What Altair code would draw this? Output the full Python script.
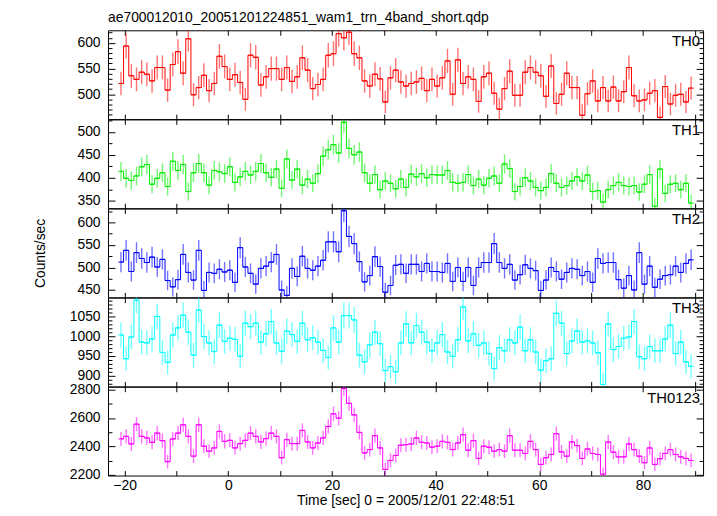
import altair as alt
import pandas as pd

FONT = "Liberation Sans"
BIN = 1.0
N_BINS = 111
T_FIRST = -20.7
TIME = [round(T_FIRST + BIN * i, 2) for i in range(N_BINS)]

TH0 = [521, 594, 536, 529, 543, 539, 526, 552, 552, 508,
       558, 583, 541, 608, 499, 513, 537, 507, 521, 574,
       554, 529, 538, 523, 490, 576, 572, 518, 534, 550,
       550, 529, 552, 525, 534, 571, 547, 511, 519, 529,
       576, 579, 618, 610, 621, 579, 571, 526, 516, 539,
       530, 485, 532, 547, 524, 516, 521, 524, 531, 507,
       529, 516, 532, 565, 500, 567, 521, 534, 529, 486,
       534, 541, 502, 471, 511, 545, 498, 498, 543, 552,
       543, 536, 496, 555, 482, 500, 541, 513, 513, 459,
       501, 526, 487, 513, 487, 514, 487, 505, 552, 497,
       487, 489, 502, 507, 455, 515, 481, 498, 500, 485, 512]

TH1 = [414, 399, 394, 404, 424, 429, 386, 399, 411, 381,
       436, 416, 429, 370, 411, 431, 411, 384, 416, 413,
       409, 424, 390, 402, 414, 406, 414, 431, 411, 401,
       419, 377, 441, 395, 419, 384, 397, 388, 409, 447,
       461, 472, 454, 521, 464, 450, 456, 411, 388, 407,
       374, 393, 388, 376, 397, 379, 408, 402, 409, 400,
       407, 406, 406, 416, 390, 388, 390, 407, 383, 397,
       384, 399, 404, 388, 430, 420, 370, 381, 400, 393,
       379, 372, 379, 409, 388, 379, 383, 393, 402, 393,
       406, 370, 372, 347, 374, 383, 390, 383, 381, 383,
       369, 386, 407, 338, 419, 366, 386, 388, 374, 388, 345]

TH2 = [512, 538, 491, 533, 520, 511, 523, 501, 518, 471,
       457, 473, 529, 489, 472, 538, 449, 489, 487, 496,
       490, 494, 467, 544, 501, 487, 463, 498, 503, 512,
       529, 450, 438, 498, 480, 525, 498, 494, 503, 516,
       557, 557, 535, 626, 569, 553, 513, 468, 482, 524,
       502, 445, 460, 505, 507, 487, 507, 507, 491, 509,
       491, 491, 489, 509, 469, 500, 469, 500, 460, 500,
       511, 511, 553, 511, 498, 507, 472, 484, 506, 498,
       493, 449, 472, 500, 491, 474, 489, 498, 496, 482,
       491, 467, 520, 509, 511, 511, 473, 454, 482, 450,
       533, 463, 503, 456, 474, 482, 484, 503, 489, 509, 517]

TH3 = [1003, 943, 998, 1091, 985, 983, 993, 1050, 959, 934,
       1003, 1021, 1053, 1010, 952, 1066, 999, 983, 961, 1028,
       987, 995, 992, 949, 1033, 1024, 1033, 985, 1006, 1037,
       983, 962, 1013, 1004, 987, 1033, 991, 996, 985, 964,
       946, 1021, 985, 1052, 1052, 1041, 952, 935, 978, 1010,
       981, 913, 923, 910, 983, 1031, 983, 1027, 1010, 985,
       963, 983, 1004, 960, 949, 991, 1074, 988, 1006, 977,
       983, 956, 918, 971, 963, 991, 983, 1023, 963, 991,
       960, 914, 938, 943, 1058, 1033, 956, 988, 1013, 985,
       988, 983, 958, 878, 1031, 966, 974, 995, 998, 1037,
       948, 943, 974, 963, 963, 993, 1028, 956, 985, 935, 924]

TH0123 = [2453, 2471, 2418, 2557, 2471, 2460, 2429, 2494, 2441, 2293,
          2453, 2494, 2552, 2471, 2332, 2552, 2402, 2367, 2390, 2506,
          2436, 2443, 2390, 2420, 2443, 2494, 2471, 2432, 2455, 2494,
          2471, 2321, 2448, 2420, 2420, 2513, 2432, 2390, 2425, 2460,
          2541, 2629, 2599, 2807, 2703, 2622, 2499, 2355, 2378, 2476,
          2390, 2239, 2302, 2337, 2409, 2413, 2418, 2460, 2429, 2425,
          2395, 2402, 2436, 2429, 2378, 2425, 2483, 2374, 2441, 2316,
          2402, 2395, 2367, 2378, 2367, 2476, 2374, 2374, 2351, 2436,
          2378, 2274, 2321, 2344, 2490, 2362, 2332, 2432, 2406, 2316,
          2383, 2351, 2344, 2205, 2432, 2360, 2327, 2327, 2418, 2378,
          2332, 2286, 2390, 2274, 2314, 2351, 2378, 2344, 2327, 2316, 2302]

NAMES = ["TH0", "TH1", "TH2", "TH3", "TH0123"]
SERIES = [TH0, TH1, TH2, TH3, TH0123]
COLORS = ["#ff0000", "#00ee00", "#0000ff", "#00ffff", "#ff00ff"]
Y_DOMAINS = [(451.6, 624.6), (333.8, 527.0), (433.7, 631.0), (873.0, 1097.5), (2196.0, 2819.5)]
Y_MAJOR = [[500, 550, 600], [350, 400, 450, 500], [450, 500, 550, 600],
           [900, 950, 1000, 1050], [2200, 2400, 2600, 2800]]
Y_STEP = [10, 25, 25, 10, 100]
X_DOMAIN = [-23.2, 91.6]
X_TICKS = [-20, -10, 0, 10, 20, 30, 40, 50, 60, 70, 80, 90]
X_LABELS = [-20, 0, 20, 40, 60, 80]
TITLE = "ae700012010_20051201224851_wam1_trn_4band_short.qdp"
XTITLE = "Time [sec] 0 = 2005/12/01 22:48:51"
YTITLE = "Counts/sec"

W, H = 601, 89.7


def minor_values(dom, step):
    start = int(-(-dom[0] // step) * step)
    vals = []
    v = start
    while v <= dom[1]:
        vals.append(v)
        v += step
    return vals


def panel(k):
    name, vals, color = NAMES[k], SERIES[k], COLORS[k]
    dom, major, step = Y_DOMAINS[k], Y_MAJOR[k], Y_STEP[k]
    last = k == len(NAMES) - 1
    df = pd.DataFrame({"t": TIME, "rate": vals})
    xs = alt.Scale(domain=X_DOMAIN, nice=False, zero=False)
    ys = alt.Scale(domain=list(dom), nice=False, zero=False)
    yticks = minor_values(dom, step)
    mod = major[1] - major[0]
    ytick_size = {"condition": {"test": f"datum.value % {mod} === 0", "value": 7}, "value": 4}

    y_lab = alt.Axis(orient="left", values=major, format="d", ticks=False, domain=False, grid=False,
                     labelPadding=8, labelFontSize=14, labelFont=FONT, labelColor="black",
                     title=YTITLE if k == 2 else None, titleFontSize=14, titleFont=FONT,
                     titleFontWeight="normal", titleColor="black", titlePadding=30)
    y_tick_l = alt.Axis(orient="right", offset=-W, values=yticks, labels=False, domain=False,
                        grid=False, ticks=True, tickSize=ytick_size, tickColor="black", title=None)
    y_tick_r = alt.Axis(orient="left", offset=-W, values=yticks, labels=False, domain=False,
                        grid=False, ticks=True, tickSize=ytick_size, tickColor="black", title=None)
    if last:
        x_lab = alt.Axis(orient="bottom", values=X_LABELS, format="d", ticks=False, domain=False,
                         grid=False, labelPadding=3, labelFontSize=14, labelFont=FONT,
                         labelColor="black", title=XTITLE, titleFontSize=14, titleFont=FONT,
                         titleFontWeight="normal", titleColor="black", titlePadding=1)
    else:
        x_lab = None
    x_tick_b = alt.Axis(orient="top", offset=-H, values=X_TICKS, labels=False, domain=False,
                        grid=False, ticks=True, tickSize=5, tickColor="black", title=None)
    x_tick_t = alt.Axis(orient="bottom", offset=-H, values=X_TICKS, labels=False, domain=False,
                        grid=False, ticks=True, tickSize=5, tickColor="black", title=None)

    base = alt.Chart(df).transform_calculate(
        lo="datum.rate - sqrt(datum.rate)",
        hi="datum.rate + sqrt(datum.rate)",
        xa=f"datum.t - {BIN / 2}",
        xb=f"datum.t + {BIN / 2}",
    )
    err = base.mark_rule(color=color, opacity=0.55, strokeWidth=1.4, clip=True).encode(
        x=alt.X("t:Q", scale=xs, axis=x_lab),
        y=alt.Y("lo:Q", scale=ys, axis=y_lab),
        y2="hi:Q",
    )
    seg = base.mark_rule(color=color, strokeWidth=1, clip=True).encode(
        x=alt.X("xa:Q", scale=xs, axis=x_tick_b),
        x2="xb:Q",
        y=alt.Y("rate:Q", scale=ys, axis=y_tick_l),
    )
    stepl = base.mark_line(interpolate="step", color=color, strokeWidth=1, clip=True).encode(
        x=alt.X("t:Q", scale=xs, axis=x_tick_t),
        y=alt.Y("rate:Q", scale=ys, axis=y_tick_r),
    )
    lab = alt.Chart(pd.DataFrame({"l": [name]})).mark_text(
        align="right", baseline="top", fontSize=15, font=FONT, color="black"
    ).encode(x=alt.value(W - 3), y=alt.value(4), text="l:N")

    props = dict(width=W, height=H)
    if k == 0:
        props["title"] = alt.TitleParams(TITLE, anchor="start", frame="group", fontSize=14,
                                         font=FONT, fontWeight="normal", color="black", offset=5)
    return alt.layer(err, seg, stepl, lab).resolve_axis(x="independent", y="independent").properties(**props)


chart = alt.vconcat(*[panel(k) for k in range(len(NAMES))], spacing=0, bounds="flush").properties(
    padding={"left": 25, "top": 0, "right": 5, "bottom": 0},
    background="white",
).configure_view(stroke="black", strokeWidth=1)

chart.save("out.html", embed_options={"renderer": "svg", "actions": False})
